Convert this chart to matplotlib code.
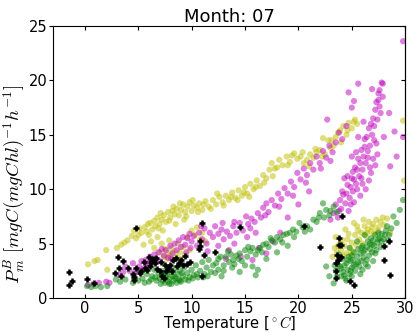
import matplotlib
matplotlib.use("Agg")
import matplotlib.pyplot as plt

plt.rcParams['mathtext.fontset'] = 'cm'
plt.rcParams['font.family'] = ['DejaVu Sans']

title = "Month: 07"
xlabel = r"Temperature [$^\circ C$]"
ylabel = r"$P^B_m$ $[mgC(mgChl)^{-1}h^{-1}]$"
xticks = [0, 5, 10, 15, 20, 25, 30]
yticks = [0, 5, 10, 15, 20, 25]

yellow = [
    (0.3,3.1),(0.9,3.4),(1.2,3.5),(2.0,4.4),(2.1,2.6),(3.0,4.6),(3.4,4.9),(3.7,5.1),(4.0,5.3),(4.4,5.7),
    (4.6,6.2),(4.8,5.5),(5.1,6.4),(5.3,6.0),(5.6,6.5),(5.8,6.1),(6.1,6.9),(6.3,6.3),(6.5,7.1),(6.6,6.6),
    (6.8,7.4),(7.0,6.8),(7.2,7.2),(7.4,7.6),(7.6,7.0),(7.8,7.9),(8.0,7.4),(8.2,8.0),(8.4,7.7),(8.6,8.2),
    (8.8,7.6),(9.0,8.1),(9.2,8.6),(9.4,7.9),(9.6,8.4),(9.8,8.8),(10.0,8.0),(10.2,8.5),(10.5,8.3),(10.7,8.7),
    (11.0,8.1),(11.3,8.9),(11.6,8.4),(12.0,9.0),(12.3,8.6),(12.6,9.3),(12.9,8.8),(13.2,9.4),(13.5,9.0),(13.8,9.7),
    (14.1,9.2),(14.4,9.9),(14.7,9.4),(15.0,10.2),(15.2,9.6),(15.5,10.5),(15.8,10.0),(16.1,10.8),(16.4,10.3),(16.7,11.3),
    (17.0,11.0),(17.3,11.8),(17.5,12.4),(17.8,11.9),(18.2,12.7),(18.5,12.2),(18.9,13.0),(19.2,12.5),(19.6,13.3),(19.9,12.8),
    (20.2,13.0),(20.5,12.4),(20.8,12.7),(21.1,13.2),(21.4,12.9),(21.7,13.4),(22.0,13.6),(22.3,14.7),(22.5,13.2),(22.8,14.5),
    (23.0,13.8),(23.3,14.0),(23.5,14.8),(23.7,15.2),(24.0,14.3),(24.2,15.8),(24.5,15.0),(24.7,16.1),(25.0,15.6),(25.2,16.2),
    (25.5,16.0),
    (5.0,5.8),(5.9,6.8),(6.9,6.4),(7.1,7.8),(7.9,7.1),(8.3,8.4),(8.9,8.7),(9.5,7.5),(10.1,9.0),(10.6,7.9),
    (11.1,8.6),(11.8,8.2),(12.4,9.6),(13.0,8.5),(13.7,9.3),(14.3,9.0),(14.9,9.7),(15.4,9.3),(16.0,10.2),(16.8,10.6),
    (17.6,11.2),(18.0,12.0),(19.0,12.2),(19.4,13.1),(20.4,13.4),(21.0,12.1),(21.6,13.7),(22.2,13.0),(23.1,14.5),(23.9,15.4),
    (24.6,15.4),(25.3,16.4),
    (6.2,5.2),(6.5,4.6),(6.8,5.6),(7.0,4.2),(7.2,5.0),(7.4,3.8),(7.5,4.5),(7.7,3.6),(7.8,4.1),(7.9,5.3),
    (8.0,3.9),(8.1,4.6),(8.3,3.5),(8.4,4.3),(8.6,3.8),(8.7,5.0),(8.9,4.2),(9.0,3.6),(9.2,4.7),(9.4,4.0),
    (9.6,5.6),(9.8,4.4),(10.0,6.2),(10.3,5.8),(10.5,6.5),(10.8,5.4),(11.0,6.0),(11.3,5.2),(7.3,6.2),(8.5,6.8),
    (9.3,7.2),(6.0,5.8),(5.5,4.9),
    (23.2,3.8),(23.4,4.6),(23.6,4.2),(23.8,3.6),(23.9,5.0),(24.0,4.4),(24.2,3.9),(24.3,4.8),(24.5,4.1),(24.6,5.4),
    (24.8,4.6),(25.0,5.1),(25.1,4.3),(25.3,5.8),(25.4,4.9),(25.6,6.2),(25.7,5.4),(25.9,6.0),(26.0,5.0),(26.2,6.6),
    (26.3,5.7),(26.5,6.3),(26.6,7.0),(26.8,6.1),(27.0,6.8),(27.1,5.9),(27.3,7.2),(27.5,6.5),(27.7,7.0),(28.0,6.7),
    (28.3,7.3),(28.6,6.0),(24.4,6.3),(25.2,6.9),(23.5,5.6),
    (24.1,5.3),(24.7,5.9),(25.5,6.6),(26.1,7.2),(26.9,6.5),(27.4,6.2),(27.9,7.4),(23.7,4.8),(24.9,4.0),(26.4,6.0),
    (29.8,16.3),(29.9,10.8),
]

magenta = [
    (0.3,1.2),(0.8,1.3),(1.3,1.4),(2.3,1.4),(2.0,1.5),(3.2,2.1),(3.6,2.4),(3.8,2.9),(4.2,2.5),(4.5,3.2),
    (4.8,2.6),(5.1,2.9),(5.3,3.4),(5.5,2.7),(5.7,3.5),(5.9,3.0),(6.1,3.8),(6.3,3.3),(6.5,4.0),(6.7,3.6),
    (6.9,4.2),(7.0,3.4),(7.2,4.5),(7.4,3.9),(7.6,4.4),(7.8,3.7),(8.0,4.8),(8.2,4.1),(8.4,5.0),(8.6,4.4),
    (8.8,5.3),(9.0,4.7),(9.2,5.6),(9.4,4.9),(9.6,5.5),(9.8,5.9),(10.0,5.2),(10.2,5.7),(10.5,4.8),(10.7,6.0),
    (11.0,5.4),(11.2,6.4),(11.4,5.0),(11.7,6.0),(12.0,5.6),(12.2,6.6),(12.5,5.9),(12.8,6.3),(13.0,5.4),(13.3,6.1),
    (13.6,5.7),(13.9,6.6),(14.2,6.0),(14.5,6.9),(14.8,6.2),(15.1,7.5),(15.3,6.8),(15.6,7.3),(15.9,7.0),(16.2,7.8),
    (16.5,7.4),(16.7,8.3),(17.0,8.7),(17.2,7.9),(17.5,9.0),(17.8,8.5),(18.1,9.6),(18.4,9.1),(18.7,10.1),(19.0,9.6),
    (19.3,10.7),(19.6,10.2),(19.9,11.5),(20.2,10.9),(20.5,11.9),(20.8,11.3),(21.1,12.4),(21.4,11.8),(21.7,13.0),(22.0,12.4),
    (22.3,13.5),(22.6,12.9),(22.9,14.0),(23.2,13.4),(23.5,14.3),(23.8,15.2),(24.1,14.6),(22.7,16.4),(24.5,15.8),
    (9.9,4.6),(10.9,6.6),(12.9,6.9),(14.0,7.0),(15.5,6.4),(16.9,7.6),(18.2,8.4),(19.5,9.4),(20.7,10.6),(22.1,11.9),
    (23.0,12.6),(8.1,3.6),(6.0,3.2),(5.0,2.4),(9.5,4.2),
    (11.5,4.3),(12.5,4.8),(13.5,4.4),(14.0,5.0),(14.6,3.8),(15.2,5.6),(15.7,3.5),(16.3,4.6),(17.0,4.1),(17.6,5.2),
    (18.3,6.0),(19.0,7.4),(20.0,8.6),(21.0,9.8),(13.2,3.6),(16.0,6.0),
    (23.0,7.2),(23.3,7.8),(23.5,8.6),(23.7,7.4),(23.9,9.0),(24.0,8.2),(24.2,9.5),(24.4,8.7),(24.5,9.6),(24.6,10.4),
    (24.8,9.2),(24.9,10.2),(25.0,11.0),(25.1,9.8),(25.2,10.9),(25.3,12.0),(25.4,10.5),(25.5,11.8),(25.6,12.8),(25.7,11.2),
    (25.8,12.4),(25.9,13.6),(26.0,11.8),(26.1,13.0),(26.2,13.9),(26.3,12.4),(26.4,14.8),(26.5,12.9),(26.6,15.6),(26.7,14.0),
    (26.8,11.5),(26.9,15.0),(27.0,16.5),(27.0,12.8),(27.1,15.8),(27.2,17.3),(27.3,14.2),(27.4,16.4),(27.5,18.2),(27.6,19.1),
    (27.7,17.0),(27.8,19.8),(27.5,18.8),(26.0,10.5),(26.6,10.8),(27.4,13.2),(24.7,8.0),(25.2,8.8),(25.8,9.4),(26.3,10.0),
    (24.3,11.0),(25.0,13.0),(25.6,14.8),(26.1,16.2),
    (24.1,9.8),(24.6,11.2),(25.1,11.6),(25.4,13.4),(25.9,11.0),(26.2,14.6),(26.5,13.5),(26.8,16.0),(27.1,14.5),(27.3,18.0),
    (27.6,17.6),(27.2,12.2),(26.7,12.0),(25.5,10.0),(24.9,8.6),(23.8,8.0),(27.9,18.5),
    (25.6,19.7),(24.7,18.9),(25.2,18.1),(27.9,19.7),(26.9,19.2),(28.5,17.0),(29.0,15.3),(29.8,14.8),(29.8,23.6),
    (28.0,14.8),(29.2,13.0),(28.6,12.1),(25.0,17.5),
]

green = [
    (0.2,1.1),(0.6,1.0),(1.0,1.1),(1.5,1.0),(2.1,1.1),(2.9,1.7),(3.3,1.5),(3.8,1.7),(4.5,1.4),(4.6,1.9),
    (5.0,1.6),(5.4,1.8),(5.8,2.2),(6.0,1.5),(6.3,2.0),(6.5,2.6),(6.7,1.6),(6.9,2.3),(7.0,1.8),(7.1,1.3),
    (7.2,2.1),(7.3,1.6),(7.4,2.5),(7.5,1.4),(7.6,1.9),(7.7,2.2),(7.8,1.5),(7.9,1.8),(8.0,2.4),(8.1,1.3),
    (8.2,2.0),(8.3,1.6),(8.4,2.7),(8.5,1.8),(8.6,1.4),(8.7,2.2),(8.8,1.7),(8.9,2.5),(9.0,1.5),(9.2,2.0),
    (9.3,2.8),(9.4,1.7),(9.6,2.3),(9.8,1.9),(10.0,2.6),(10.2,2.1),(10.4,3.0),(10.6,1.9),(10.8,2.5),(11.0,3.3),
    (11.2,2.2),(11.4,2.8),(11.6,3.5),(11.8,2.4),(12.0,3.0),(12.3,3.2),(12.5,2.6),(12.7,3.8),(13.0,3.0),(13.2,3.8),
    (13.5,3.3),(13.7,4.0),(13.9,3.5),(14.2,3.9),(14.5,4.1),(14.7,3.4),(15.0,4.4),(15.2,3.8),(15.5,4.3),(15.7,4.6),
    (16.0,4.0),(16.2,4.4),(16.4,4.6),(16.7,4.9),(17.0,5.0),(17.2,4.7),(17.5,5.3),(17.8,5.1),(18.0,5.6),(18.3,5.4),
    (18.6,5.8),(18.9,5.9),(19.2,6.0),(19.5,6.3),(19.8,6.1),(20.1,6.9),(20.4,6.5),(20.8,6.6),(21.1,6.3),(21.4,7.2),
    (21.7,7.0),(22.0,7.8),(22.3,8.7),(22.6,8.1),(22.9,7.6),(23.3,8.4),(23.6,7.9),(22.4,7.4),
    (6.6,1.9),(7.3,2.3),(7.9,1.3),(8.4,2.0),(8.9,1.6),(9.1,2.3),(9.7,1.6),(10.1,1.8),(10.5,2.2),(11.1,1.9),
    (6.2,1.7),(5.6,1.4),(12.5,3.6),(13.4,4.3),(14.4,3.6),(15.3,4.7),(16.6,4.2),(17.4,5.5),(18.5,5.1),(19.6,5.6),
    (20.6,6.1),(21.9,7.4),(23.0,8.0),
    (11.5,2.0),(12.2,2.3),(13.0,2.5),(13.8,2.8),(14.5,2.4),(15.0,3.0),(15.7,2.9),(16.0,2.1),(16.2,2.6),(14.0,3.1),
    (12.8,2.0),(17.0,3.6),(18.0,4.2),(19.0,4.8),
    (22.6,2.9),(22.9,2.0),(23.3,1.35),(23.5,2.5),(23.7,3.1),(23.9,2.9),(24.0,2.0),(24.1,3.6),(24.2,2.4),(24.3,3.0),
    (24.4,1.8),(24.5,3.2),(24.6,2.6),(24.7,3.8),(24.8,2.2),(24.9,3.4),(25.0,2.8),(25.1,3.5),(25.2,4.2),(25.3,2.5),
    (25.4,3.1),(25.5,3.8),(25.6,4.5),(25.7,2.9),(25.8,4.1),(25.9,3.4),(26.0,4.8),(26.1,3.7),(26.2,4.4),(26.3,3.1),
    (26.4,4.7),(26.5,5.2),(26.6,3.9),(26.7,4.5),(26.8,5.5),(26.9,4.2),(27.0,5.3),(27.1,4.8),(27.2,5.8),(27.3,4.4),
    (27.4,5.1),(27.5,6.0),(27.6,5.5),(27.7,4.7),(27.8,5.9),(28.0,5.4),(28.2,6.2),(28.3,6.6),(28.5,5.8),(28.9,7.5),
    (29.5,8.1),(29.8,9.0),(29.2,6.9),(28.7,6.4),(24.5,1.6),(25.0,2.0),(25.8,2.2),(26.5,2.9),(27.0,3.4),(23.8,4.0),
    (24.8,4.6),(25.5,5.2),(26.2,5.8),
    (24.0,2.7),(24.3,2.1),(24.6,3.5),(25.0,3.9),(25.2,3.0),(25.6,3.3),(25.9,4.6),(26.1,4.2),(26.4,3.5),(26.7,5.0),
    (26.9,4.9),(27.2,4.1),(27.5,5.4),(27.8,5.2),(28.1,5.8),(28.4,5.3),(26.0,2.6),(24.9,2.5),(23.6,2.0),(23.4,3.0),
]

black = [
    (-1.5,2.4),(-1.5,1.2),(-1.2,1.6),(0.2,1.75),(0.85,1.4),
    (3.1,3.8),(3.2,2.8),(2.8,2.3),(3.6,3.4),(3.4,2.0),(4.0,2.8),(4.5,2.2),(4.6,1.7),(4.6,1.9),(4.8,2.8),
    (4.8,6.4),(5.2,2.3),(5.3,2.5),(5.5,3.3),(5.6,2.8),(5.8,2.6),(6.0,3.8),(6.1,2.9),(6.2,3.3),(6.3,3.5),
    (6.4,3.6),(6.6,3.2),(6.7,3.7),(6.8,2.7),(7.0,2.5),(7.1,3.3),(7.2,2.0),(7.4,1.8),(7.5,3.0),(7.6,2.5),
    (7.8,2.8),(8.0,3.0),(8.2,2.5),(8.3,3.5),(8.5,3.7),(8.6,2.9),(8.8,3.2),(9.0,3.5),(9.2,3.0),(9.4,3.9),
    (9.6,3.1),(9.8,3.3),(10.8,5.2),(10.8,4.8),(10.7,4.5),(11.0,6.9),(11.2,4.0),(11.0,2.0),(12.2,4.2),(14.5,6.5),
    (20.5,6.6),(22.0,4.7),(23.5,3.2),(23.5,2.5),(23.5,1.8),(23.6,4.0),(23.7,3.5),(23.8,5.5),(23.8,4.9),(24.0,4.9),
    (24.0,3.8),(24.1,7.5),(24.8,1.6),(25.2,1.2),(28.0,4.8),(28.0,3.5),(28.5,5.2),(28.6,2.1),
]

fig = plt.figure(figsize=(4.16, 3.33), dpi=100)
ax = fig.add_axes([0.127, 0.105, 0.847, 0.817])

for pts, col in [(yellow, (0.75, 0.75, 0.0)), (magenta, (0.75, 0.0, 0.75)), (green, (0.0, 0.5, 0.0))]:
    ax.scatter([p[0] for p in pts], [p[1] for p in pts], s=20, color=col, alpha=0.5, edgecolors='none')

ax.plot([p[0] for p in black], [p[1] for p in black], '+', color='k', markersize=5, mew=1.8, linestyle='none')

ax.set_xlim(-3, 30)
ax.set_ylim(0, 25)
ax.set_xticks(xticks)
ax.set_yticks(yticks)
ax.tick_params(axis='x', direction='in', top=True, labelsize=10.5, length=3, pad=2)
ax.tick_params(axis='y', direction='out', left=True, right=False, labelsize=10.5, length=3, pad=1)
sec = ax.secondary_yaxis('right')
sec.set_yticks(yticks)
sec.tick_params(direction='in', length=3, labelright=False)
ax.set_title(title, fontsize=13, pad=3)
ax.set_xlabel(xlabel, fontsize=10.5, labelpad=-1)
ax.set_ylabel(ylabel, fontsize=13.5)
ax.yaxis.set_label_coords(-0.073, 0.42)

fig.savefig("out.png", dpi=100)
